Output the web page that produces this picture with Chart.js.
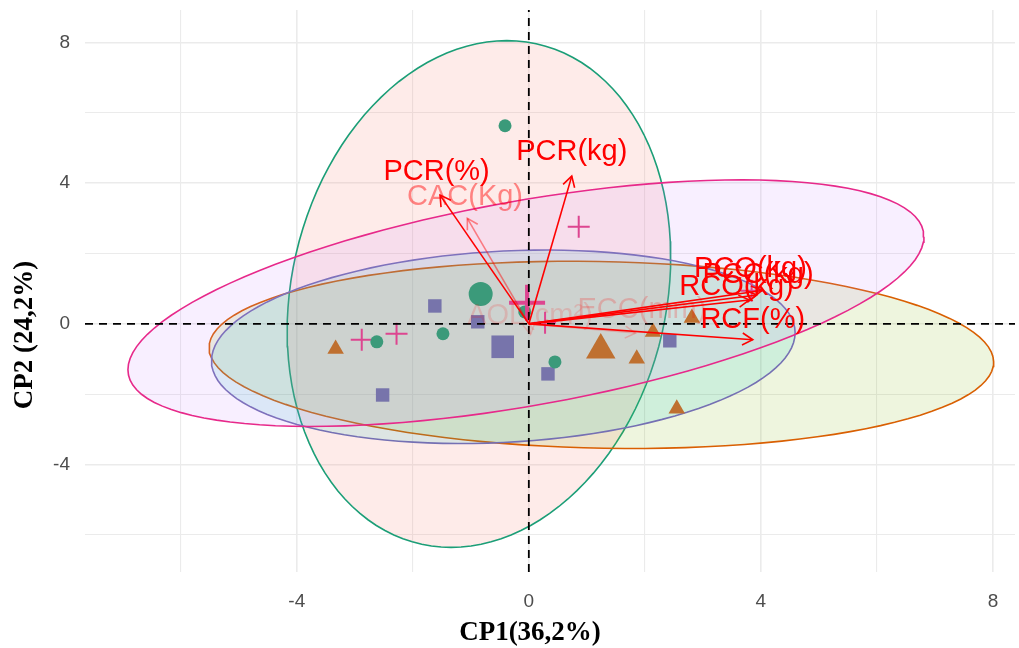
<!DOCTYPE html>
<html>
<head>
<meta charset="utf-8">
<script src="https://cdn.jsdelivr.net/npm/chart.js@4.4.1/dist/chart.umd.min.js"></script>
<style>
  html, body { margin: 0; padding: 0; background: #fff; }
</style>
</head>
<body>
<canvas id="pca" width="1019" height="648"></canvas>
<script>
// individuos por grupo (CP1, CP2)
const g1X = [-0.41, -1.48, -2.62, 0.45, -0.07]
const g1Y = [5.63, -0.28, -0.51, -1.08, 0.34]
const g2X = [-3.33, 1.86, 2.14, 2.81, 2.55]
const g2Y = [-0.71, -0.99, -0.23, 0.17, -2.41]
const g3X = [-1.62, -0.88, -2.52, 0.33, 2.43]
const g3Y = [0.51, 0.06, -2.02, -1.42, -0.48]
const g4X = [0.86, -2.88, -2.28, 0.28, 3.84]
const g4Y = [2.76, -0.45, -0.28, 0.03, 0.94]

// centroides de grupo
const meanX = [-0.83, 1.24, -0.45, -0.03]
const meanY = [0.85, -0.74, -0.65, 0.60]

// elipses: centro + semiejes conjugados
const ellCx = [-0.86, 1.25, -0.44, -0.05]
const ellCy = [0.85, -0.88, -0.65, 0.59]
const ellAx = [0.48, 6.75, 5.03, 6.86]
const ellAy = [7.20, -0.05, 0.40, 1.89]
const ellBx = [3.27, -0.40, 0.00, 0.00]
const ellBy = [0.00, 2.66, 2.72, 2.95]

// variables
const varNames = ['PCR(%)', 'CAC(Kg)', 'PCR(kg)', 'PCO(kg)', 'PCC(kg)', 'RCO(kg)', 'RCF(%)', 'ECC(mm)', 'AOL(cm²)']
const varX = [-1.53, -1.06, 0.74, 4.02, 3.93, 3.80, 3.86, 1.84, 0.03]
const varY = [3.66, 3.00, 4.20, 0.95, 0.82, 0.68, -0.45, -0.26, -0.30]
const labX = [-1.59, -1.10, 0.74, 3.82, 3.95, 3.58, 3.86, 1.95, 0.02]
const labY = [4.32, 3.61, 4.89, 1.56, 1.38, 1.05, 0.11, 0.40, 0.23]

// ejes
const xGrid = [-6, -4, -2, 0, 2, 4, 6, 8]
const yGrid = [-6, -4, -2, 0, 2, 4, 6, 8]
const xTicks = [-4, 0, 4, 8]
const yTicks = [-4, 0, 4, 8]

const X_MIN = -7.65, X_MAX = 8.38, Y_MIN = -7.05, Y_MAX = 8.92

const lineCol = ['#1B9E77', '#D95F02', '#7570B3', '#E7298A']
const fillCol = ['rgba(248,118,109,0.15)', 'rgba(124,174,0,0.13)', 'rgba(0,191,196,0.13)', 'rgba(199,124,255,0.12)']
const ptCol = ['#3b9a7a', '#bf7030', '#7774ab', '#dd4590']
const ptStyle = ['circle', 'triangle', 'rect', 'cross']
const ptRad = [6.5, 9.5, 9.5, 11]
const meanRad = [12, 17, 16, 18]
const varAlpha = [1, 0.45, 1, 1, 1, 1, 1, 0.2, 0.15]

function ellipsePts(i) {
  const pts = []
  for (let k = 0; k <= 120; k++) {
    const t = k / 120 * 2 * Math.PI
    pts.push({
      x: ellCx[i] + ellAx[i] * Math.cos(t) + ellBx[i] * Math.sin(t),
      y: ellCy[i] + ellAy[i] * Math.cos(t) + ellBy[i] * Math.sin(t)
    })
  }
  return pts
}

const groupsX = [g1X, g2X, g3X, g4X]
const groupsY = [g1Y, g2Y, g3Y, g4Y]

const datasets = []
for (let i = 0; i < 4; i++) {
  datasets.push({
    data: ellipsePts(i),
    showLine: true,
    fill: 'shape',
    backgroundColor: fillCol[i],
    borderColor: lineCol[i],
    borderWidth: 1.6,
    pointRadius: 0,
    tension: 0,
    order: 14 - i   // primer grupo debajo
  })
}
for (let i = 0; i < 4; i++) {
  datasets.push({
    data: groupsX[i].map((x, k) => ({ x: x, y: groupsY[i][k] })),
    pointStyle: ptStyle[i],
    pointRadius: ptRad[i],
    backgroundColor: ptCol[i],
    borderColor: ptCol[i],
    borderWidth: i === 3 ? 2 : 0,
    order: 6
  })
  datasets.push({
    data: [{ x: meanX[i], y: meanY[i] }],
    pointStyle: ptStyle[i],
    pointRadius: meanRad[i],
    backgroundColor: ptCol[i],
    borderColor: ptCol[i],
    borderWidth: i === 3 ? 4 : 0,
    order: 5
  })
}
// lineas de referencia
datasets.push({
  data: [{ x: X_MIN, y: 0 }, { x: X_MAX, y: 0 }],
  showLine: true, borderColor: '#000', borderWidth: 1.8, borderDash: [8, 6], pointRadius: 0, order: 3
})
datasets.push({
  data: [{ x: 0, y: Y_MIN }, { x: 0, y: Y_MAX }],
  showLine: true, borderColor: '#000', borderWidth: 1.8, borderDash: [8, 6], pointRadius: 0, order: 3
})
// flechas de variables
varNames.forEach((n, i) => {
  datasets.push({
    data: [{ x: 0, y: 0 }, { x: varX[i], y: varY[i] }],
    showLine: true,
    borderColor: 'rgba(255,0,0,' + varAlpha[i] + ')',
    borderWidth: 1.6,
    pointRadius: 0,
    order: 1
  })
})

const biplotExtras = {
  id: 'biplotExtras',
  afterDatasetsDraw(chart) {
    const { ctx, scales: { x, y } } = chart
    ctx.save()
    // puntas de flecha
    varNames.forEach((n, i) => {
      const x0 = x.getPixelForValue(0), y0 = y.getPixelForValue(0)
      const x1 = x.getPixelForValue(varX[i]), y1 = y.getPixelForValue(varY[i])
      const a = Math.atan2(y1 - y0, x1 - x0)
      const L = 12
      ctx.strokeStyle = 'rgba(255,0,0,' + varAlpha[i] + ')'
      ctx.lineWidth = 1.6
      ctx.beginPath()
      ctx.moveTo(x1 - L * Math.cos(a - Math.PI / 6), y1 - L * Math.sin(a - Math.PI / 6))
      ctx.lineTo(x1, y1)
      ctx.lineTo(x1 - L * Math.cos(a + Math.PI / 6), y1 - L * Math.sin(a + Math.PI / 6))
      ctx.stroke()
    })
    // etiquetas
    ctx.font = '29px "Liberation Sans"'
    ctx.textAlign = 'center'
    ctx.textBaseline = 'middle'
    varNames.forEach((n, i) => {
      ctx.fillStyle = 'rgba(255,0,0,' + varAlpha[i] + ')'
      ctx.fillText(n, x.getPixelForValue(labX[i]), y.getPixelForValue(labY[i]))
    })
    ctx.restore()
  },
  afterDraw(chart) {
    const { ctx } = chart
    ctx.save()
    ctx.fillStyle = '#000'
    ctx.font = 'bold 27px "Liberation Serif"'
    ctx.textAlign = 'center'
    ctx.textBaseline = 'middle'
    ctx.fillText('CP1(36,2%)', 530, 633)
    ctx.translate(25, 335)
    ctx.rotate(-Math.PI / 2)
    ctx.fillText('CP2 (24,2%)', 0, 0)
    ctx.restore()
  }
}

new Chart(document.getElementById('pca'), {
  type: 'scatter',
  data: { datasets: datasets },
  plugins: [biplotExtras],
  options: {
    responsive: false,
    animation: false,
    layout: { autoPadding: false, padding: { top: 10, right: 4, left: 0, bottom: 0 } },
    plugins: { legend: { display: false }, tooltip: { enabled: false } },
    scales: {
      x: {
        type: 'linear', min: X_MIN, max: X_MAX,
        afterBuildTicks: s => { s.ticks = xGrid.map(v => ({ value: v })) },
        afterFit: s => { s.height = 76; s.paddingLeft = 0; s.paddingRight = 0 },
        ticks: {
          autoSkip: false, maxRotation: 0, padding: 18, color: '#4d4d4d',
          font: { family: 'Liberation Sans', size: 19 },
          callback: v => xTicks.includes(v) ? String(v) : ''
        },
        grid: { color: '#ebebeb', drawTicks: false, lineWidth: c => (c.tick && c.tick.value % 4 === 0) ? 1.6 : 1.1 },
        border: { display: false }
      },
      y: {
        type: 'linear', min: Y_MIN, max: Y_MAX,
        afterBuildTicks: s => { s.ticks = yGrid.map(v => ({ value: v })) },
        afterFit: s => { s.width = 85; s.paddingTop = 0; s.paddingBottom = 0 },
        ticks: {
          autoSkip: false, padding: 15, color: '#4d4d4d',
          font: { family: 'Liberation Sans', size: 19 },
          callback: v => yTicks.includes(v) ? String(v) : ''
        },
        grid: { color: '#ebebeb', drawTicks: false, lineWidth: c => (c.tick && c.tick.value % 4 === 0) ? 1.6 : 1.1 },
        border: { display: false }
      }
    }
  }
})
</script>
</body>
</html>
